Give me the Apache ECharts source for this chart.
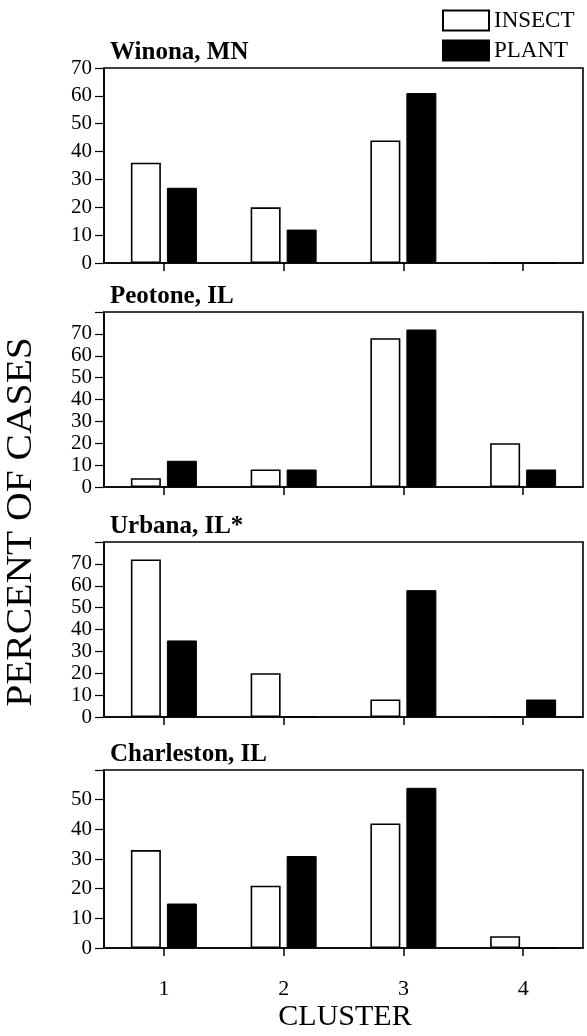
<!DOCTYPE html>
<html>
<head>
<meta charset="utf-8">
<script src="https://cdn.jsdelivr.net/npm/echarts@6/dist/echarts.min.js"></script>
<style>
html,body{margin:0;padding:0;background:#fff;}
#chart{width:587px;height:1036px;}
</style>
</head>
<body>
<div id="chart"></div>
<script>
var categories = ['1', '2', '3', '4'];
var sites = ['Winona, MN', 'Peotone, IL', 'Urbana, IL*', 'Charleston, IL'];
var insect = [
  [36, 20, 44, 0],
  [4, 8, 68, 20],
  [72, 20, 8, 0],
  [33, 21, 42, 4]
];
var plant = [
  [27, 12, 61, 0],
  [12, 8, 72, 8],
  [35, 0, 58, 8],
  [15, 31, 54, 0]
];
var yMax = [70, 80, 80, 60];
var yTickStep = 10;
var yLabelMax = [70, 70, 70, 50];
var seriesNames = ['INSECT', 'PLANT'];
var yTitle = 'PERCENT OF CASES';
var xTitle = 'CLUSTER';

var FONT = 'Liberation Serif';
var gridTops = [68, 312, 542, 770];
var gridHeights = [195, 175, 175, 178];

var chart = echarts.init(document.getElementById('chart'));
var grids = [], xAxes = [], yAxes = [], series = [], titles = [];
for (var i = 0; i < 4; i++) {
  grids.push({left: 104, right: 4, top: gridTops[i], height: gridHeights[i],
    show: true, borderColor: '#000', borderWidth: 1.6, backgroundColor: 'transparent'});
  titles.push({text: sites[i], left: 105, top: gridTops[i] - 33,
    textStyle: {fontFamily: FONT, fontWeight: 'bold', fontSize: 25, color: '#000'}});
  xAxes.push({type: 'category', gridIndex: i, data: categories,
    axisLine: {lineStyle: {color: '#000', width: 1.6}},
    axisTick: {show: true, alignWithLabel: true, length: 8, lineStyle: {color: '#000', width: 1.5}},
    axisLabel: {show: i === 3, margin: 30, fontFamily: FONT, fontSize: 22, color: '#000'},
    splitLine: {show: false}});
  (function(idx){
    yAxes.push({type: 'value', gridIndex: idx, min: 0, max: yMax[idx], interval: yTickStep,
      axisLine: {show: true, lineStyle: {color: '#000', width: 1.6}},
      axisTick: {show: true, length: 9, lineStyle: {color: '#000', width: 1.2}},
      axisLabel: {margin: 12, fontFamily: FONT, fontSize: 21, color: '#000',
        formatter: function(v){ return v > yLabelMax[idx] ? '' : String(v); }},
      splitLine: {show: false}});
  })(i);
  series.push({name: seriesNames[0], type: 'bar', xAxisIndex: i, yAxisIndex: i,
    data: insect[i], barWidth: 30, barGap: '20%',
    itemStyle: {color: '#fff', borderColor: '#000', borderWidth: 1.6}});
  series.push({name: seriesNames[1], type: 'bar', xAxisIndex: i, yAxisIndex: i,
    data: plant[i], barWidth: 30, barGap: '20%',
    itemStyle: {color: '#000', borderColor: '#000', borderWidth: 1}});
}

chart.setOption({
  animation: false,
  backgroundColor: '#fff',
  title: titles,
  legend: {data: seriesNames, orient: 'vertical', left: 437, top: 4, itemWidth: 46, itemHeight: 20,
    itemGap: 7, icon: 'rect', textStyle: {fontFamily: FONT, fontSize: 23, color: '#000'}},
  grid: grids,
  xAxis: xAxes,
  yAxis: yAxes,
  series: series,
  graphic: [
    {type: 'text', x: 22, y: 522, rotation: Math.PI / 2, scaleX: 1.1,
      style: {text: yTitle, fontFamily: FONT, fontSize: 36, fill: '#000', align: 'center', verticalAlign: 'middle'}},
    {type: 'text', x: 345, y: 1017,
      style: {text: xTitle, fontFamily: FONT, fontSize: 30, fill: '#000', align: 'center', verticalAlign: 'middle'}}
  ]
});
</script>
</body>
</html>
